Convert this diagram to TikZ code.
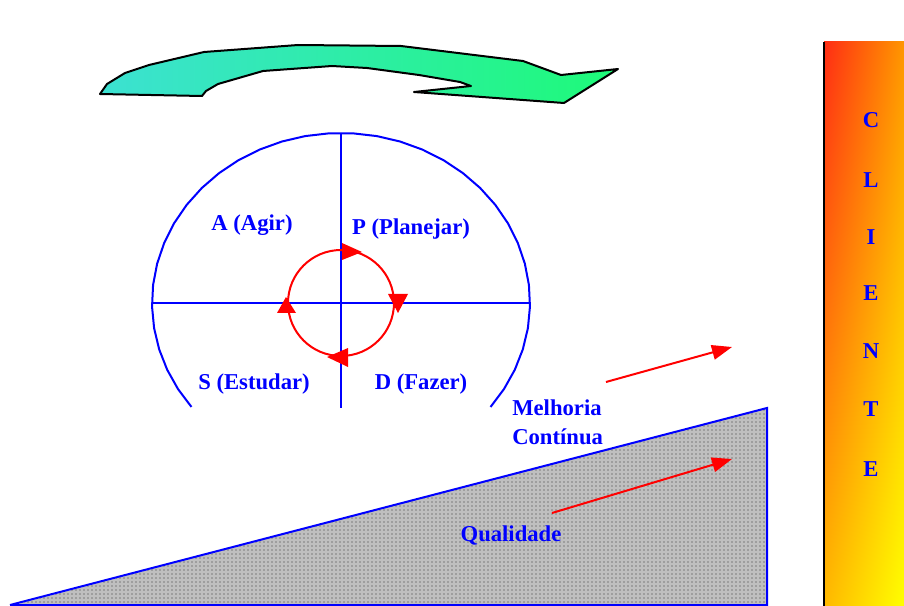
\documentclass[tikz,border=0pt]{standalone}
\usepackage{fontspec}
\setmainfont{Liberation Serif}
\usetikzlibrary{arrows.meta,patterns,shadings}
\definecolor{pblue}{RGB}{0,0,255}
\definecolor{pred}{RGB}{255,0,0}
\tikzset{
  lbl/.style={text=pblue,font=\fontsize{17}{20}\selectfont\bfseries,inner sep=0pt},
  bline/.style={draw=pblue,line width=1.5pt},
  rline/.style={draw=pred,line width=1.5pt},
  rarrow/.style={draw=pred,line width=1.5pt,-{Triangle[length=15pt,width=11pt]}},
  rtip/.style={fill=pred},
}
\begin{document}
\begin{tikzpicture}[x=0.75pt,y=-0.75pt]
\useasboundingbox (0,0) rectangle (904,606);
% curved 3D arrow
\shade[left color={rgb,255:red,60;green,225;blue,210},middle color={rgb,255:red,20;green,250;blue,250},right color={rgb,255:red,30;green,250;blue,120},draw=black,line width=1.5pt,line join=round]
 (100,94) -- (107,84) -- (125,73) -- (149,65) -- (204,52) -- (298,45) -- (401,46) -- (523,61) -- (561,75) -- (618,69) -- (564,103) -- (414,92) -- (471,86) -- (460,82) -- (419,75) -- (367,68) -- (332,66) -- (263,71) -- (218,84) -- (206,91) -- (202,96) -- cycle;
% CLIENTE bar
\shade[upper left={rgb,255:red,255;green,45;blue,20},upper right={rgb,255:red,255;green,150;blue,0},lower left={rgb,255:red,255;green,185;blue,0},lower right={rgb,255:red,255;green,255;blue,0}] (824,42) rectangle (904,606);
\draw[black,line width=2pt] (824,42) -- (824,606);
\foreach \l/\y [count=\i] in {C/120,L/180,I/237,E/293,N/351,T/409,E/469}
  \node[lbl] (cl\i) at (871,\y) {\l};
% quality wedge
\fill[gray!50] (10,606) -- (767,408) -- (767,606) -- cycle;
\fill[pattern=dots,pattern color=black!80] (10,606) -- (767,408) -- (767,606) -- cycle;
\draw[bline] (10,605) -- (767,408) -- (767,606);
\draw[bline] (10,605) -- (767,605);
% PDCA ellipse
\draw[bline] plot[domain=-37.7:217.7,samples=36] ({341+189*cos(\x)},{303-170*sin(\x)});
\coordinate (hl) at (152,303); \coordinate (hr) at (530,303);
\coordinate (vt) at (341,133); \coordinate (vb) at (341,408);
\draw[bline] (hl) -- (hr);
\draw[bline] (vt) -- (vb);
% red circle
\coordinate (rc) at (341,303);
\draw[rline] (rc) circle[radius=53];
\fill[rtip] (342,243) -- (342,260) -- (362,252) -- cycle;
\fill[rtip] (388,294) -- (408,294) -- (398,313) -- cycle;
\fill[rtip] (348,348) -- (348,367) -- (327,357) -- cycle;
\fill[rtip] (277,313) -- (296,313) -- (286,297) -- cycle;
% labels
\node[lbl] (a) at (252,225) {A (Agir)};
\node[lbl] (p) at (411,229) {P (Planejar)};
\node[lbl] (s) at (254,384) {S (Estudar)};
\node[lbl] (d) at (421,384) {D (Fazer)};
\node[lbl,anchor=west] (m1) at (512,408) {Melhoria};
\node[lbl,anchor=west] (m2) at (512,437) {Contínua};
\node[lbl] (q) at (511,535) {Qualidade};
% red arrows
\coordinate (u1) at (606,382); \coordinate (u2) at (732,347);
\coordinate (l1) at (552,513); \coordinate (l2) at (732,459);
\draw[rarrow] (u1) -- (u2);
\draw[rarrow] (l1) -- (l2);
\end{tikzpicture}
\end{document}
